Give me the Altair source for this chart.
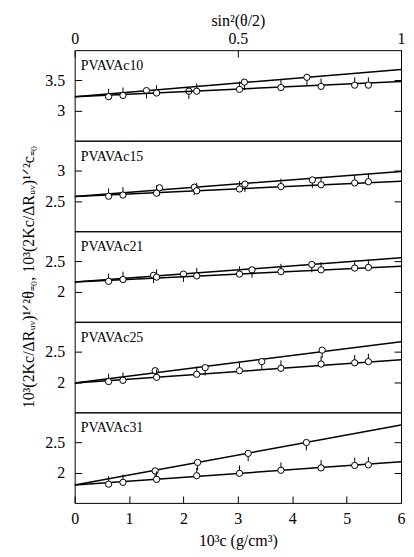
import altair as alt
import pandas as pd

SAMPLES = ["PVAVAc10", "PVAVAc15", "PVAVAc21", "PVAVAc25", "PVAVAc31"]

# c = 0 extrapolation, plotted against sin^2(theta/2) (top axis)
SIN2 = [0.104, 0.148, 0.251, 0.374, 0.505, 0.632, 0.755, 0.858, 0.900]
C0_Y = [
    [3.23, 3.25, 3.29, 3.32, 3.35, 3.38, 3.40, 3.42, 3.42],
    [2.58, 2.60, 2.63, 2.67, 2.70, 2.74, 2.77, 2.80, 2.82],
    [2.17, 2.20, 2.24, 2.26, 2.29, 2.33, 2.36, 2.39, 2.40],
    [2.01, 2.03, 2.08, 2.13, 2.19, 2.23, 2.30, 2.32, 2.34],
    [1.81, 1.84, 1.89, 1.95, 1.99, 2.04, 2.08, 2.12, 2.13],
]

# theta = 0 extrapolation, plotted against c (bottom axis)
C_VALUES = [
    [1.32, 2.10, 3.12, 4.27],
    [1.56, 2.20, 3.13, 4.37],
    [1.45, 2.00, 3.26, 4.36],
    [1.48, 2.40, 3.44, 4.55],
    [1.48, 2.26, 3.19, 4.26],
]
THETA0_Y = [
    [3.33, 3.32, 3.47, 3.55],
    [2.72, 2.73, 2.78, 2.85],
    [2.27, 2.29, 2.36, 2.45],
    [2.19, 2.24, 2.34, 2.53],
    [2.03, 2.17, 2.32, 2.50],
]

# fitted lines: common intercept, value at c = 6 and at sin^2 = 1
INTERCEPT = [3.23, 2.575, 2.16, 1.985, 1.795]
THETA0_END = [3.68, 2.99, 2.56, 2.67, 2.79]
C0_END = [3.48, 2.83, 2.42, 2.37, 2.18]
C_RANGE = [0, 6]
S_RANGE = [0, 1]

ERR = 0.13  # length of the vertical bar attached to each point

Y_DOMAINS = [[2.5, 4.0], [2.0, 3.5], [1.5, 3.0], [1.5, 3.0], [1.5, 3.0]]
Y_TICKS = [[3, 3.5], [2.5, 3], [2, 2.5], [2, 2.5], [2, 2.5]]
C_TICKS = [0, 1, 2, 3, 4, 5, 6]
S_TICKS = [0, 0.5, 1]

FONT = "Liberation Serif"
Y_TITLE = "10³(2Kc/ΔRᵤᵥ)¹ᐟ²θ₌₀, 10³(2Kc/ΔRᵤᵥ)¹ᐟ²c₌₀"
TOP_TITLE = "sin²(θ/2)"
BOTTOM_TITLE = "10³c (g/cm³)"

W = 328
H = 91


def panel(i):
    first = i == 0
    last = i == len(SAMPLES) - 1
    ysc = alt.Scale(domain=Y_DOMAINS[i], nice=False, zero=False)

    left_kw = dict(values=Y_TICKS[i], orient="left", offset=-7, tickSize=7,
                   labelPadding=10, domain=False, format=".1~f", grid=False)
    if i == 2:
        left_kw.update(title=Y_TITLE, titlePadding=8)
    else:
        left_kw.update(title=None)
    left_axis = alt.Axis(**left_kw)
    right_axis = alt.Axis(values=Y_TICKS[i], orient="right", offset=-7, tickSize=7,
                          labels=False, domain=False, title=None, grid=False)

    if last:
        cx_axis = alt.Axis(values=C_TICKS, orient="bottom", offset=-7, tickSize=7,
                           labelPadding=8, domain=False, format=".1~f", labelFlush=False,
                           title=BOTTOM_TITLE, titleY=50, titleBaseline="alphabetic",
                           grid=False)
    else:
        cx_axis = None
    if first:
        sx_axis = alt.Axis(values=S_TICKS, orient="top", offset=-7, tickSize=7,
                           labelPadding=4, domain=False, format=".1~f", labelFlush=False,
                           title=TOP_TITLE, titleY=-32, titleBaseline="alphabetic",
                           grid=False)
    else:
        sx_axis = None

    cx = alt.X("x:Q", scale=alt.Scale(domain=C_RANGE, nice=False), axis=cx_axis)
    sx = alt.X("x:Q", scale=alt.Scale(domain=S_RANGE, nice=False), axis=sx_axis)

    # theta = 0 series vs c
    c_line_df = pd.DataFrame({"x": C_RANGE, "y": [INTERCEPT[i], THETA0_END[i]]})
    c_pts_df = pd.DataFrame({"x": C_VALUES[i], "y": THETA0_Y[i]})
    c_pts_df["y2"] = c_pts_df["y"] - ERR
    c_line = alt.Chart(c_line_df).mark_line(color="black", strokeWidth=1.5, clip=True).encode(
        x=cx, y=alt.Y("y:Q", scale=ysc, axis=left_axis))
    c_bar = alt.Chart(c_pts_df).mark_rule(color="black", strokeWidth=1).encode(
        x=cx, y=alt.Y("y:Q", scale=ysc, axis=left_axis), y2="y2:Q")
    c_pt = alt.Chart(c_pts_df).mark_point(shape="circle", filled=True, fill="white",
                                          stroke="black", strokeWidth=1, size=40, opacity=1).encode(
        x=cx, y=alt.Y("y:Q", scale=ysc, axis=left_axis))
    label = alt.Chart(pd.DataFrame({"name": [SAMPLES[i]]})).mark_text(
        align="left", baseline="top", font=FONT, fontSize=14, color="black").encode(
        x=alt.value(6), y=alt.value(9), text="name:N")
    c_layer = alt.layer(c_line, c_bar, c_pt, label)

    # c = 0 series vs sin^2(theta/2)
    s_line_df = pd.DataFrame({"x": S_RANGE, "y": [INTERCEPT[i], C0_END[i]]})
    s_pts_df = pd.DataFrame({"x": SIN2, "y": C0_Y[i]})
    s_pts_df["y2"] = s_pts_df["y"] + ERR
    s_line = alt.Chart(s_line_df).mark_line(color="black", strokeWidth=1.5, clip=True).encode(
        x=sx, y=alt.Y("y:Q", scale=ysc, axis=right_axis))
    s_bar = alt.Chart(s_pts_df).mark_rule(color="black", strokeWidth=1).encode(
        x=sx, y=alt.Y("y:Q", scale=ysc, axis=right_axis), y2="y2:Q")
    s_pt = alt.Chart(s_pts_df).mark_point(shape="circle", filled=True, fill="white",
                                          stroke="black", strokeWidth=1, size=40, opacity=1).encode(
        x=sx, y=alt.Y("y:Q", scale=ysc, axis=right_axis))
    s_layer = alt.layer(s_line, s_bar, s_pt)

    return (alt.layer(c_layer, s_layer)
            .resolve_scale(x="independent")
            .resolve_axis(x="independent", y="independent")
            .properties(width=W, height=H))


chart = (alt.vconcat(*[panel(i) for i in range(len(SAMPLES))], spacing=0, bounds="flush")
         .resolve_scale(x="independent", y="independent")
         .properties(padding={"left": 12, "top": 2, "right": 0, "bottom": 0},
                     background="white")
         .configure_view(stroke="black", strokeWidth=1)
         .configure_axis(labelFont=FONT, labelFontSize=16, titleFont=FONT, titleFontSize=16,
                         titleFontWeight="normal", labelColor="black", titleColor="black",
                         tickColor="black", tickWidth=1))

chart.save("out.html", embed_options={"renderer": "svg", "actions": False})
